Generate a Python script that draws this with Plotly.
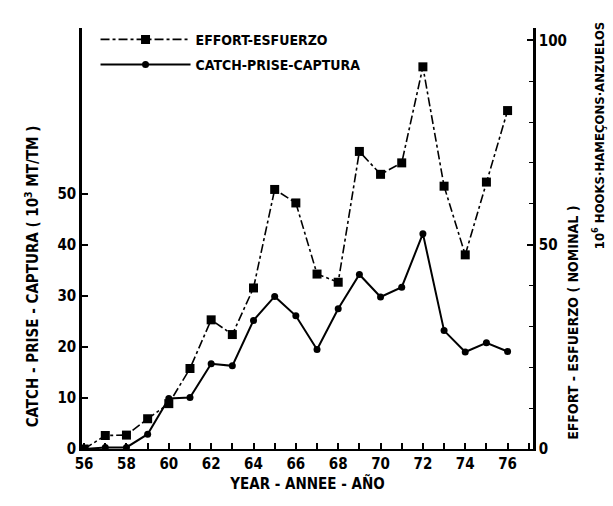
import plotly.graph_objects as go

years = list(range(1956, 1977))
year_short = [y - 1900 for y in years]
effort = [0, 3.3, 3.4, 7.4, 11.1, 19.7, 31.6, 28.0, 39.4, 63.5, 60.2, 42.8, 40.8,
          72.8, 67.2, 70.0, 93.5, 64.3, 47.5, 65.3, 82.8]
catch = [0, 0.3, 0.3, 2.9, 9.9, 10.1, 16.7, 16.3, 25.2, 29.9, 26.1, 19.5, 27.5,
         34.2, 29.8, 31.7, 42.2, 23.2, 19.0, 20.8, 19.1]
x_ticks = [56, 58, 60, 62, 64, 66, 68, 70, 72, 74, 76]
left_ticks = [0, 10, 20, 30, 40, 50]
right_ticks = [0, 50, 100]

FONT = "DejaVu Sans Condensed, Liberation Sans Narrow, DejaVu Sans"

fig = go.Figure()
fig.add_trace(go.Scatter(
    x=year_short, y=effort, yaxis="y2", mode="lines+markers",
    name="EFFORT-ESFUERZO", legendgroup="e",
    line=dict(color="black", width=1.6, dash="dashdot"),
    marker=dict(symbol="square", size=9, color="black"),
))
fig.add_trace(go.Scatter(
    x=year_short, y=catch, yaxis="y", mode="lines+markers",
    name="CATCH-PRISE-CAPTURA", legendgroup="c",
    line=dict(color="black", width=2),
    marker=dict(symbol="circle", size=7, color="black"),
))

fig.update_layout(
    width=613, height=506,
    margin=dict(l=82, r=80, t=28, b=57),
    paper_bgcolor="white", plot_bgcolor="white",
    font=dict(family=FONT, color="black", size=14, weight="bold"),
    showlegend=True,
    legend=dict(x=0.03, y=1.01, xanchor="left", yanchor="top",
                bgcolor="rgba(0,0,0,0)", font=dict(size=14, family=FONT, weight="bold"),
                itemwidth=90, tracegroupgap=4),
    xaxis=dict(
        range=[55.9, 77.2], tickvals=x_ticks, ticktext=[str(v) for v in x_ticks],
        ticks="inside", ticklen=6, tickwidth=1.5, tickcolor="black",
        minor=dict(dtick=1, ticks="inside", ticklen=6, tickcolor="black", tickwidth=1.5),
        showline=True, linecolor="black", linewidth=2, showgrid=False, zeroline=False,
        tickfont=dict(size=15, family=FONT, weight="bold"),
        title=dict(text="YEAR - ANNEE - AÑO", font=dict(size=15, family=FONT, weight="bold"), standoff=6),
    ),
    yaxis=dict(
        range=[0, 82.5], tickvals=left_ticks, ticks="inside", ticklen=6, tickwidth=1.5,
        tickcolor="black", showline=True, linecolor="black", linewidth=2.5,
        showgrid=False, zeroline=False, tickfont=dict(size=15, family=FONT, weight="bold"),
    ),
    yaxis2=dict(
        overlaying="y", side="right", range=[0, 103], tickvals=right_ticks,
        ticks="inside", ticklen=6, tickwidth=1.5, tickcolor="black",
        minor=dict(dtick=10, ticks="inside", ticklen=4, tickcolor="black", tickwidth=1.2),
        showline=True, linecolor="black", linewidth=2.5, showgrid=False, zeroline=False,
        tickfont=dict(size=15, family=FONT, weight="bold"),
    ),
    annotations=[
        dict(text="CATCH - PRISE - CAPTURA ( 10<sup>3</sup> MT/TM )",
             xref="paper", yref="paper", x=-0.111, y=0.41, textangle=-90,
             xanchor="center", yanchor="middle",
             showarrow=False, font=dict(size=15, family=FONT, weight="bold")),
        dict(text="EFFORT - ESFUERZO ( NOMINAL )",
             xref="paper", yref="paper", x=1.089, y=0.30, textangle=-90,
             xanchor="center", yanchor="middle",
             showarrow=False, font=dict(size=14, family=FONT, weight="bold")),
        dict(text="10<sup>6</sup> HOOKS·HAMEÇONS·ANZUELOS",
             xref="paper", yref="paper", x=1.146, y=0.745, textangle=-90,
             xanchor="center", yanchor="middle",
             showarrow=False, font=dict(size=13, family=FONT, weight="bold")),
    ],
)

fig.write_html("out.html")
